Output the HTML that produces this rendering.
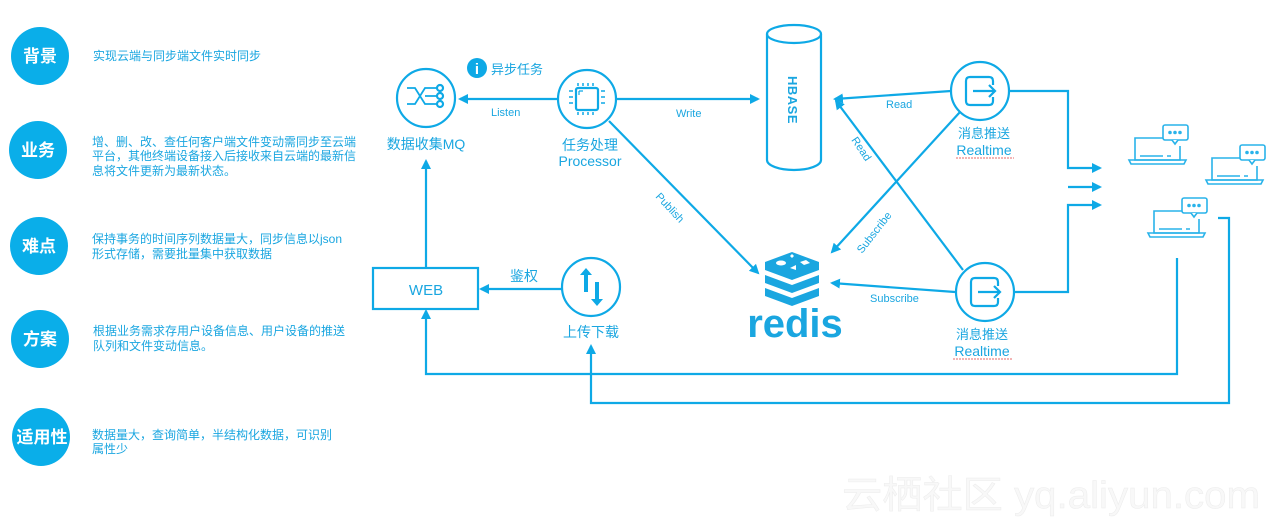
<!DOCTYPE html>
<html><head><meta charset="utf-8"><style>
body{margin:0;background:#fff;width:1273px;height:525px;overflow:hidden}
svg{display:block}
text{font-family:"Liberation Sans","Noto Sans CJK SC",sans-serif}
</style></head><body>
<svg width="1273" height="525" viewBox="0 0 1273 525" xmlns="http://www.w3.org/2000/svg">
<defs>
<marker id="a" markerWidth="10" markerHeight="10" refX="8" refY="5" orient="auto" markerUnits="userSpaceOnUse">
<path d="M0,0 L10,5 L0,10 z" fill="#0ea9e6"/></marker>
<g id="lap" fill="none" stroke="#29b3ea" stroke-width="1.6">
<path d="M28,6 H0 V28 H45 V14"/>
<path d="M-6,28 H51 L49,32 H-4 Z"/>
<path d="M5,24 H28 M32,24 H36"/>
<rect x="28" y="-7" width="25" height="15" rx="2"/>
<path d="M37,8 L40,12 L43,8" fill="#fff"/>
<circle cx="35" cy="0.5" r="1" fill="#29b3ea"/><circle cx="40" cy="0.5" r="1" fill="#29b3ea"/><circle cx="45" cy="0.5" r="1" fill="#29b3ea"/>
</g>
<g id="rt" fill="none" stroke="#0ea9e6" stroke-width="2.2">
<circle r="29"/>
<path d="M9,-14 H-10 Q-14,-14 -14,-10 V10 Q-14,14 -10,14 H9 Q13,14 13,10 V6 M13,-6 V-10 Q13,-14 9,-14"/>
<path d="M-7,0 H15 M9,-6 L15,0 L9,6"/>
</g>
</defs>

<g fill="#0aaee9">
<circle cx="40" cy="56" r="29"/><circle cx="38" cy="150" r="29"/><circle cx="39" cy="246" r="29"/><circle cx="40" cy="339" r="29"/><circle cx="41" cy="437" r="29"/>
</g>
<g fill="#fff" font-size="17" font-weight="bold" text-anchor="middle">
<text x="40" y="62">背景</text><text x="38" y="156">业务</text><text x="39" y="252">难点</text><text x="40" y="345">方案</text><text x="42" y="443">适用性</text>
</g>
<g fill="#1aa6e0" font-size="12">
<text x="93" y="60">实现云端与同步端文件实时同步</text>
<text x="92" y="146">增、删、改、查任何客户端文件变动需同步至云端</text>
<text x="92" y="160">平台，其他终端设备接入后接收来自云端的最新信</text>
<text x="92" y="175">息将文件更新为最新状态。</text>
<text x="92" y="243">保持事务的时间序列数据量大，同步信息以json</text>
<text x="92" y="258">形式存储，需要批量集中获取数据</text>
<text x="93" y="335">根据业务需求存用户设备信息、用户设备的推送</text>
<text x="93" y="350">队列和文件变动信息。</text>
<text x="92" y="439">数据量大，查询简单，半结构化数据，可识别</text>
<text x="92" y="453">属性少</text>
</g>

<g stroke="#0ea9e6" stroke-width="2.2" fill="none">
<circle cx="426" cy="98" r="29"/>
<path d="M407,88 H415 L425,104 H433 M407,104 H415 L425,88 H433 M425,96 H437 M433,88 H437 M433,104 H437" stroke-width="1.8"/>
<circle cx="440" cy="88" r="3"/><circle cx="440" cy="96" r="3"/><circle cx="440" cy="104" r="3"/>
<circle cx="587" cy="99" r="29"/>
<rect x="576" y="88" width="22" height="22" rx="2"/>
<path d="M579,91 H583 M579,91 V95" stroke-width="1.2"/>
<path d="M578,83 V86 M583,83 V86 M588,83 V86 M593,83 V86 M578,112 V115 M583,112 V115 M588,112 V115 M593,112 V115 M569,91 H573 M569,97 H573 M569,103 H573 M601,91 H605 M601,97 H605 M601,103 H605" stroke-width="1.5"/>
<circle cx="591" cy="287" r="29"/>
<path d="M558,99 H460" marker-end="url(#a)"/>
<path d="M616,99 H758" marker-end="url(#a)"/>
<path d="M609,121 L758,273" marker-end="url(#a)"/>
<path d="M562,289 H481" marker-end="url(#a)"/>
<path d="M426,268 V161" marker-end="url(#a)"/>
<rect x="373" y="268" width="105" height="41"/>
<path d="M767,34 V160 A27,10 0 0 0 821,160 V34"/>
<ellipse cx="794" cy="34" rx="27" ry="9"/>
<path d="M951,91 L835,99" marker-end="url(#a)"/>
<path d="M963,270 L836,101" marker-end="url(#a)"/>
<path d="M960,112 L832,252" marker-end="url(#a)"/>
<path d="M955,292 L832,283" marker-end="url(#a)"/>
<path d="M1010,91 H1068 V168 H1100" marker-end="url(#a)"/>
<path d="M1068,187 H1100" marker-end="url(#a)"/>
<path d="M1014,292 H1068 V205 H1100" marker-end="url(#a)"/>
<path d="M1218,218 H1229 V403 H591 V346" marker-end="url(#a)"/>
<path d="M1177,258 V374 H426 V311" marker-end="url(#a)"/>
</g>
<g fill="#0ea9e6">
<path d="M580,275 L586,268 L592,275 H588 V292 H584 V275 Z"/>
<path d="M591,299 L597,306 L603,299 H599 V282 H595 V299 Z"/>
<circle cx="477" cy="68" r="10"/>
</g>
<text x="477" y="74" fill="#fff" font-size="15" font-weight="bold" text-anchor="middle" font-family="Liberation Serif">i</text>
<use href="#rt" x="980" y="91"/>
<use href="#rt" x="985" y="292"/>
<use href="#lap" x="1135" y="132"/>
<use href="#lap" x="1212" y="152"/>
<use href="#lap" x="1154" y="205"/>

<g fill="#1aa6e0">
<path d="M765,262 L792,252 L819,262 V270 L792,280 L765,270 Z"/>
<path d="M765,275 L792,285 L819,275 V283 L792,293 L765,283 Z"/>
<path d="M765,288 L792,298 L819,288 V296 L792,306 L765,296 Z"/>
</g>
<g fill="#fff"><ellipse cx="781" cy="263" rx="5" ry="2.5"/><path d="M790,256 l2,-2 l2,2 l-2,2z"/><path d="M800,262 l6,-2 l4,3 l-6,2z"/><path d="M790,268 l6,-3 v5z"/></g>
<text x="795" y="337" fill="#1aa6e0" font-size="40" font-weight="bold" text-anchor="middle" font-family="DejaVu Sans">redis</text>
<text transform="translate(788,76) rotate(90)" fill="#1aa6e0" font-size="13" font-weight="bold" letter-spacing="0.5">HBASE</text>

<g fill="#1aa6e0" font-size="11">
<text x="491" y="116">Listen</text>
<text x="676" y="117">Write</text>
<text x="886" y="108">Read</text>
<text x="870" y="302">Subscribe</text>
<text transform="translate(655,197) rotate(47)">Publish</text>
<text transform="translate(851,140) rotate(56)">Read</text>
<text transform="translate(862,254) rotate(-52)">Subscribe</text>
</g>
<g fill="#1aa6e0" font-size="14" text-anchor="middle">
<text x="426" y="149">数据收集MQ</text>
<text x="590" y="150">任务处理</text>
<text x="590" y="166">Processor</text>
<text x="591" y="337">上传下载</text>
<text x="426" y="295" font-size="15">WEB</text>
<text x="524" y="281">鉴权</text>
<text x="984" y="138" font-size="13">消息推送</text>
<text x="984" y="155">Realtime</text>
<text x="982" y="339" font-size="13">消息推送</text>
<text x="982" y="356">Realtime</text>
</g>
<text x="491" y="74" fill="#1aa6e0" font-size="13">异步任务</text>
<g stroke="#e03a3a" stroke-width="0.8" fill="none" stroke-dasharray="2 1">
<path d="M956,158 H1014"/><path d="M953,359 H1012"/>
</g>
<text x="842" y="508" fill="#f8f8f8" stroke="#ececec" stroke-width="0.5" font-size="38" textLength="418" lengthAdjust="spacingAndGlyphs">云栖社区 yq.aliyun.com</text>
</svg>
</body></html>
